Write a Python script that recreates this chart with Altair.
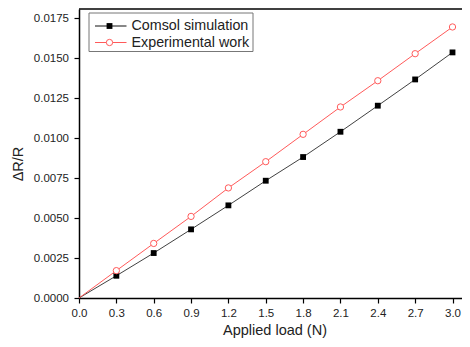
import altair as alt
import pandas as pd

# Data
load = [0.0, 0.3, 0.6, 0.9, 1.2, 1.5, 1.8, 2.1, 2.4, 2.7, 3.0]
comsol = [0.0, 0.00139, 0.00281, 0.00429, 0.00579, 0.00733, 0.00881, 0.01039, 0.01202, 0.01366, 0.01535]
experimental = [0.0, 0.00171, 0.00341, 0.0051, 0.00688, 0.00852, 0.01023, 0.01194, 0.01358, 0.01527, 0.01694]
series_names = ["Comsol simulation", "Experimental work"]
x_ticks = [0.0, 0.3, 0.6, 0.9, 1.2, 1.5, 1.8, 2.1, 2.4, 2.7, 3.0]
y_ticks = [0.0, 0.0025, 0.005, 0.0075, 0.01, 0.0125, 0.015, 0.0175]

W, H = 383, 289
FONT = "Liberation Sans"
BLACK = "#111111"
RED = "#ff5a5a"

df_c = pd.DataFrame({"load": load, "val": comsol})
df_e = pd.DataFrame({"load": load, "val": experimental})

xscale = alt.Scale(domain=[0, 3.0763], nice=False, zero=False)
yscale = alt.Scale(domain=[0, 0.0180625], nice=False)

xaxis = alt.Axis(values=x_ticks, format=".1f", title="Applied load (N)", grid=False,
                 tickSize=5, labelPadding=4, labelFontSize=11.5, labelFont=FONT,
                 labelColor="#222", titleFont=FONT, titleFontSize=14.5, titleFontWeight="normal",
                 titleColor="#222", titleX=195.5, titleY=36.5, titleBaseline="alphabetic",
                 titleAlign="center",
                 domainColor="#000", domainWidth=1.5, tickColor="#000", tickWidth=1.2,
                 labelFlush=False, labelOverlap=False)
yaxis = alt.Axis(values=y_ticks, format=".4f", title="ΔR/R", grid=False,
                 tickSize=5, labelPadding=5.5, labelFontSize=11.5, labelFont=FONT,
                 labelColor="#222", titleFont=FONT, titleFontSize=14.5, titleFontWeight="normal",
                 titleColor="#222", titleX=-61, titleY=154.5, titleAngle=270,
                 titleAlign="center", titleBaseline="middle",
                 domainColor="#000", domainWidth=1.5, tickColor="#000", tickWidth=1.2,
                 labelFlush=False, labelOverlap=False)

x = alt.X("load:Q", scale=xscale, axis=xaxis)
y = alt.Y("val:Q", scale=yscale, axis=yaxis)

line_c = alt.Chart(df_c).mark_line(color=BLACK, strokeWidth=1, opacity=0.8).encode(x=x, y=y)
pts_c = alt.Chart(df_c[df_c.load > 0]).mark_point(shape="square", filled=True, color="#000",
                                                  size=34, opacity=1).encode(x=x, y=y)
line_e = alt.Chart(df_e).mark_line(color=RED, strokeWidth=1).encode(x=x, y=y)
pts_e = alt.Chart(df_e[df_e.load > 0]).mark_point(shape="circle", filled=True, fill="white",
                                                  stroke=RED, strokeWidth=1, size=40,
                                                  opacity=1).encode(x=x, y=y)

one = pd.DataFrame({"k": [0]})
top_rule = alt.Chart(one).mark_rule(color="#000", strokeWidth=1.5).encode(
    x=alt.value(0), x2=alt.value(W), y=alt.value(0))

# Legend (manual)
leg_box = alt.Chart(one).mark_rect(fill="white", stroke="#777", strokeWidth=1).encode(
    x=alt.value(10), x2=alt.value(174), y=alt.value(4), y2=alt.value(42.5))
legend_layers = [leg_box]
rows = [(series_names[0], 17, BLACK, "square", True), (series_names[1], 33.5, RED, "circle", False)]
for name, yy, col, shp, filled in rows:
    d = pd.DataFrame({"label": [name]})
    legend_layers.append(alt.Chart(d).mark_rule(color=col, strokeWidth=1).encode(
        x=alt.value(16), x2=alt.value(47.5), y=alt.value(yy)))
    if filled:
        legend_layers.append(alt.Chart(d).mark_point(shape=shp, filled=True, color="#000", size=34,
                                                     opacity=1).encode(x=alt.value(30.5), y=alt.value(yy)))
    else:
        legend_layers.append(alt.Chart(d).mark_point(shape=shp, filled=True, fill="white", stroke=col,
                                                     strokeWidth=1, size=40, opacity=1).encode(
            x=alt.value(30.5), y=alt.value(yy)))
    legend_layers.append(alt.Chart(d).mark_text(align="left", baseline="middle", font=FONT,
                                                fontSize=14.3, color="#222").encode(
        x=alt.value(52.5), y=alt.value(yy), text="label:N"))

chart = alt.layer(line_c, line_e, pts_c, pts_e, top_rule, *legend_layers).properties(
    width=W, height=H,
    autosize=alt.AutoSizeParams(type="none"),
    padding={"left": 71, "top": 1, "right": 0, "bottom": 41},
    background="white",
).configure_view(stroke=None)

chart.save("out.html", embed_options={"renderer": "svg", "actions": False})
